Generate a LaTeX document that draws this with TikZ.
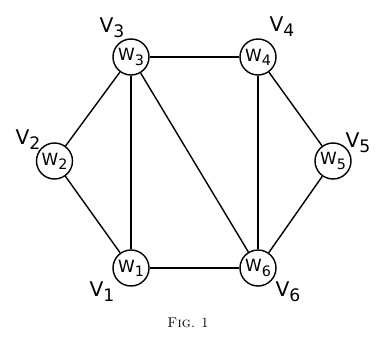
\documentclass[tikz,border=0pt]{standalone}
\usepackage{amsmath,amssymb}
\usepackage{fontspec}
\usepackage{tikz}
\newfontfamily\lettering{DejaVu Sans}
\newcommand{\lsub}[1]{\raisebox{-.45ex}{\scalebox{.85}{#1}}}

\begin{document}
\begin{tikzpicture}[line width=1pt,
  vtx/.style={circle,draw,fill=white,minimum size=.9cm,inner sep=0pt,font=\lettering\large},
  lab/.style={font=\lettering\Large}]
\useasboundingbox (0,0) rectangle (9.525,8.475);

\node[vtx] (w1) at (3.275,1.775) {W\lsub{1}};
\node[vtx] (w2) at (1.3625,4.45) {W\lsub{2}};
\node[vtx] (w3) at (3.275,7.05) {W\lsub{3}};
\node[vtx] (w4) at (6.45,7.05) {W\lsub{4}};
\node[vtx] (w5) at (8.325,4.45) {W\lsub{5}};
\node[vtx] (w6) at (6.45,1.775) {W\lsub{6}};

\draw (w1) to (w2);
\draw (w2) to (w3);
\draw (w3) to (w1);
\draw (w3) to (w4);
\draw (w3) to (w6);
\draw (w4) to (w6);
\draw (w4) to (w5);
\draw (w5) to (w6);
\draw (w1) to (w6);

\node[lab] (v1) at (2.55,1.175) {V\lsub{1}};
\node[lab] (v2) at (0.7,4.975) {V\lsub{2}};
\node[lab] (v3) at (2.8,7.775) {V\lsub{3}};
\node[lab] (v4) at (7.05,7.8) {V\lsub{4}};
\node[lab] (v5) at (8.95,4.9) {V\lsub{5}};
\node[lab] (v6) at (7.2,1.175) {V\lsub{6}};

\node[font=\rmfamily] (cap) at (4.7,.4) {\textsc{Fig.} 1};
\end{tikzpicture}
\end{document}
